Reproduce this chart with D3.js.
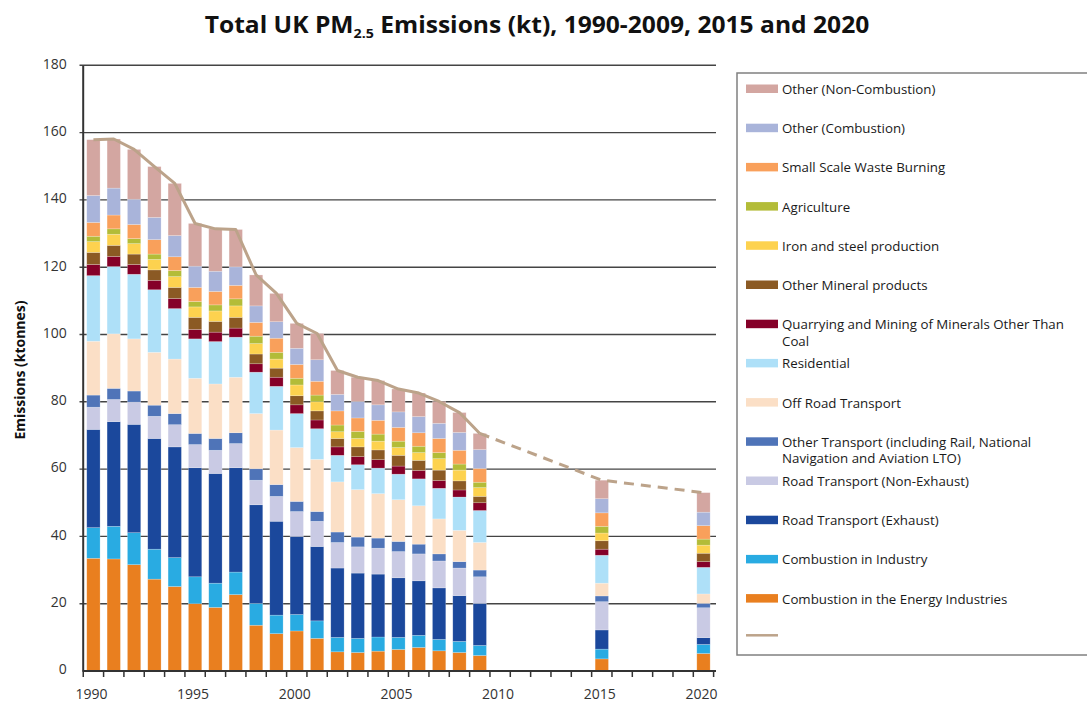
<!DOCTYPE html>
<html>
<head>
<meta charset="utf-8">
<script src="https://cdn.jsdelivr.net/npm/d3@7"></script>
<style>
  html, body { margin: 0; padding: 0; background: #fff; }
  svg { display: block; font-family: "Open Sans", "Noto Sans", sans-serif; }
</style>
</head>
<body>
<svg id="chart" width="1087" height="702"></svg>
<script>
// ---------- DATA ----------
const years = [1990,1991,1992,1993,1994,1995,1996,1997,1998,1999,2000,2001,2002,2003,2004,2005,2006,2007,2008,2009,2015,2020];
const axisYears = d3.range(1990, 2021);
const xTickLabels = [1990,1995,2000,2005,2010,2015,2020];
const yTicks = [0,20,40,60,80,100,120,140,160,180];

const energy        = [33.5,33.3,31.6,27.3,25.1,20.0,18.9,22.7,13.6,11.1,11.9,9.7,5.7,5.5,5.9,6.4,7.0,6.0,5.5,4.6,3.6,5.2];
const industry      = [9.1,9.7,9.5,8.9,8.6,8.0,7.2,6.7,6.5,5.5,4.9,5.2,4.3,4.2,4.2,3.6,3.6,3.4,3.3,3.0,2.9,2.7];
const roadExhaust   = [29.2,31.1,32.2,32.9,32.9,32.4,32.6,31.0,29.3,27.9,23.2,22.1,20.6,19.4,18.7,17.7,16.2,15.3,13.6,12.5,5.7,2.0];
const roadNonExh    = [6.6,6.6,6.6,6.6,6.6,6.9,6.9,7.2,7.3,7.4,7.4,7.5,7.6,7.8,7.7,7.8,8.0,8.0,8.2,7.9,8.4,8.9];
const otherTransport= [3.6,3.3,3.3,3.3,3.3,3.3,3.5,3.2,3.4,3.5,3.0,2.9,3.1,2.9,3.0,3.0,2.9,2.1,1.9,2.0,1.7,1.3];
const offRoad       = [16.0,16.2,15.5,15.7,16.2,16.4,16.2,16.5,16.4,16.2,16.0,15.5,14.9,14.1,13.2,12.4,11.4,10.4,9.3,8.2,3.8,2.8];
const residential   = [19.5,20.0,19.2,18.6,15.0,11.7,12.6,11.9,12.3,13.0,10.1,9.1,7.9,7.4,7.6,7.6,8.0,9.1,9.9,9.5,8.3,7.9];
const quarrying     = [3.3,3.0,2.9,2.8,3.0,2.8,2.8,2.7,2.5,2.7,2.6,2.6,2.5,2.4,2.5,2.4,2.5,2.3,2.1,2.3,1.8,1.7];
const mineral       = [3.6,3.3,3.1,3.1,3.3,3.6,3.2,3.2,2.9,2.7,2.7,2.7,2.5,2.9,2.9,3.2,3.0,3.1,2.7,1.9,2.5,2.5];
const ironSteel     = [3.2,3.3,3.1,3.1,3.2,3.1,3.1,3.4,3.1,2.7,3.2,2.7,2.0,2.5,2.6,2.3,2.3,3.4,3.2,2.6,2.3,2.4];
const agriculture   = [1.6,1.6,1.5,1.6,1.8,1.6,1.8,2.1,2.2,2.0,2.0,2.0,2.0,2.1,2.1,1.9,1.9,1.8,1.8,1.6,2.0,1.8];
const wasteBurning  = [4.1,4.1,4.2,4.3,4.1,4.2,4.0,4.0,4.1,4.2,4.1,4.1,4.2,4.0,4.1,4.1,4.0,4.2,4.1,4.1,4.0,4.0];
const otherComb     = [8.0,8.0,7.5,6.6,6.3,6.3,6.0,5.5,4.9,4.9,4.8,6.4,4.9,4.9,4.6,4.6,4.8,4.5,5.3,5.6,4.2,4.0];
const otherNonComb  = [16.6,14.6,14.8,15.1,15.5,12.7,12.6,11.1,9.2,8.4,7.4,7.8,7.1,7.2,7.2,6.8,7.0,6.5,5.9,4.8,5.5,5.8];

// series, bottom to top
const seriesKeys = ["energy","industry","roadExhaust","roadNonExh","otherTransport","offRoad","residential","quarrying","mineral","ironSteel","agriculture","wasteBurning","otherComb","otherNonComb"];
const seriesValues = {energy, industry, roadExhaust, roadNonExh, otherTransport, offRoad, residential, quarrying, mineral, ironSteel, agriculture, wasteBurning, otherComb, otherNonComb};
const seriesNames = {
  energy: "Combustion in the Energy Industries",
  industry: "Combustion in Industry",
  roadExhaust: "Road Transport (Exhaust)",
  roadNonExh: "Road Transport (Non-Exhaust)",
  otherTransport: "Other Transport (including Rail, National|Navigation and Aviation LTO)",
  offRoad: "Off Road Transport",
  residential: "Residential",
  quarrying: "Quarrying and Mining of Minerals Other Than|Coal",
  mineral: "Other Mineral products",
  ironSteel: "Iron and steel production",
  agriculture: "Agriculture",
  wasteBurning: "Small Scale Waste Burning",
  otherComb: "Other (Combustion)",
  otherNonComb: "Other (Non-Combustion)"
};
const seriesColors = {
  energy: "#e97f1f", industry: "#29abe2", roadExhaust: "#1b489c", roadNonExh: "#c9cae4",
  otherTransport: "#4f74b8", offRoad: "#fbdfc6", residential: "#aee0f8", quarrying: "#850028",
  mineral: "#8b5a24", ironSteel: "#fdd24f", agriculture: "#b3bc38", wasteBurning: "#f9a05b",
  otherComb: "#a9b4da", otherNonComb: "#d3a6a1"
};
const lineColor = "#bca38a";

// ---------- BUILD ----------
const table = years.map((yr, i) => {
  const row = {year: yr};
  seriesKeys.forEach(k => row[k] = seriesValues[k][i]);
  return row;
});
const totals = table.map(r => ({year: r.year, total: d3.sum(seriesKeys, k => r[k])}));

const svg = d3.select("#chart");
const x = d3.scaleBand().domain(axisYears).range([83.3, 713.6]).paddingInner(0.345).paddingOuter(0.17);
const y = d3.scaleLinear().domain([0, 180]).range([671, 65.3]);

// gridlines
svg.append("g").selectAll("line").data(yTicks.filter(d => d > 0)).join("line")
  .attr("x1", 79.5).attr("x2", 716).attr("y1", d => y(d)).attr("y2", d => y(d))
  .attr("stroke", "#444").attr("stroke-width", 1.4);

// bars
const stack = d3.stack().keys(seriesKeys)(table);
const barG = svg.append("g");
stack.forEach(layer => {
  barG.append("g").attr("fill", seriesColors[layer.key])
    .selectAll("rect").data(layer).join("rect")
    .attr("x", d => x(d.data.year))
    .attr("width", x.bandwidth())
    .attr("y", d => y(d[1]))
    .attr("height", d => y(d[0]) - y(d[1]))
    .attr("stroke", "rgba(255,255,255,0.35)").attr("stroke-width", 0.6);
});

// total line
const lineGen = d3.line().x(d => x(d.year) + x.bandwidth() / 2).y(d => y(d.total));
const solid = totals.filter(d => d.year <= 2009);
const dashed = totals.filter(d => d.year >= 2009);
svg.append("path").datum(solid).attr("d", lineGen).attr("fill", "none")
  .attr("stroke", lineColor).attr("stroke-width", 3).attr("stroke-linejoin", "round");
svg.append("path").datum(dashed).attr("d", lineGen)
  .attr("fill", "none").attr("stroke", lineColor).attr("stroke-width", 3).attr("stroke-dasharray", "10,7");

// y axis
const yAxis = svg.append("g").attr("transform", "translate(82.7,0)")
  .call(d3.axisLeft(y).tickValues(yTicks).tickSize(0).tickPadding(16));
yAxis.select(".domain").attr("stroke", "#333").attr("stroke-width", 2);
yAxis.selectAll("text").attr("font-size", 14).attr("fill", "#333").attr("font-family", "Open Sans").attr("dy", "0.2em");

// x axis
const xAxis = svg.append("g").attr("transform", "translate(0,671)");
xAxis.append("line").attr("x1", 82.7).attr("x2", 716).attr("y1", 0).attr("y2", 0).attr("stroke", "#333").attr("stroke-width", 2);
xAxis.selectAll("line.tick").data(axisYears.concat([2021])).join("line").attr("class", "tick")
  .attr("x1", d => d === 2021 ? 713.6 : x(d) - x.step() * x.paddingInner() / 2)
  .attr("x2", d => d === 2021 ? 713.6 : x(d) - x.step() * x.paddingInner() / 2)
  .attr("y1", 0).attr("y2", 6).attr("stroke", "#333").attr("stroke-width", 1.5);
xAxis.selectAll("text").data(xTickLabels).join("text")
  .attr("x", d => x(d) + x.bandwidth() / 2 - 2).attr("y", 28)
  .attr("text-anchor", "middle").attr("font-size", 14).attr("fill", "#333").text(d => d);

// y axis title
svg.append("text").attr("transform", "translate(25,370) rotate(-90)")
  .attr("text-anchor", "middle").attr("font-size", 14).attr("font-weight", "bold").attr("fill", "#111")
  .text("Emissions (ktonnes)");

// title
const title = svg.append("text").attr("x", 537).attr("y", 33).attr("text-anchor", "middle")
  .attr("font-size", 22.5).attr("font-weight", "bold").attr("fill", "#111");
title.append("tspan").text("Total UK PM");
title.append("tspan").attr("font-size", 13).attr("dy", 5).text("2.5");
title.append("tspan").attr("dy", -5).text(" Emissions (kt), 1990-2009, 2015 and 2020");
const tw = title.node().getComputedTextLength();
const targetW = 665;
if (tw > 0) {
  const s = targetW / tw;
  title.attr("transform", `translate(537,0) scale(${s},1) translate(-537,0)`);
}

// legend
const legend = svg.append("g");
legend.append("rect").attr("x", 737).attr("y", 73).attr("width", 360).attr("height", 582)
  .attr("fill", "#fff").attr("stroke", "#808080").attr("stroke-width", 1.5);
const legendKeys = seriesKeys.slice().reverse();
legendKeys.forEach((k, i) => {
  const cy = 89.5 + i * 39.2;
  legend.append("rect").attr("x", 746).attr("y", cy - 5).attr("width", 32).attr("height", 8.5)
    .attr("fill", seriesColors[k]);
  const lines = seriesNames[k].split("|");
  lines.forEach((ln, j) => legend.append("text").attr("x", 782).attr("y", cy + 4.5 + j * 16.5)
    .attr("font-size", 13.3).attr("fill", "#1a1a1a").text(ln));
});
const ly = 89.5 + 14 * 39.2 - 3;
legend.append("line").attr("x1", 746).attr("x2", 778).attr("y1", ly).attr("y2", ly)
  .attr("stroke", lineColor).attr("stroke-width", 2.5);
</script>
</body>
</html>
